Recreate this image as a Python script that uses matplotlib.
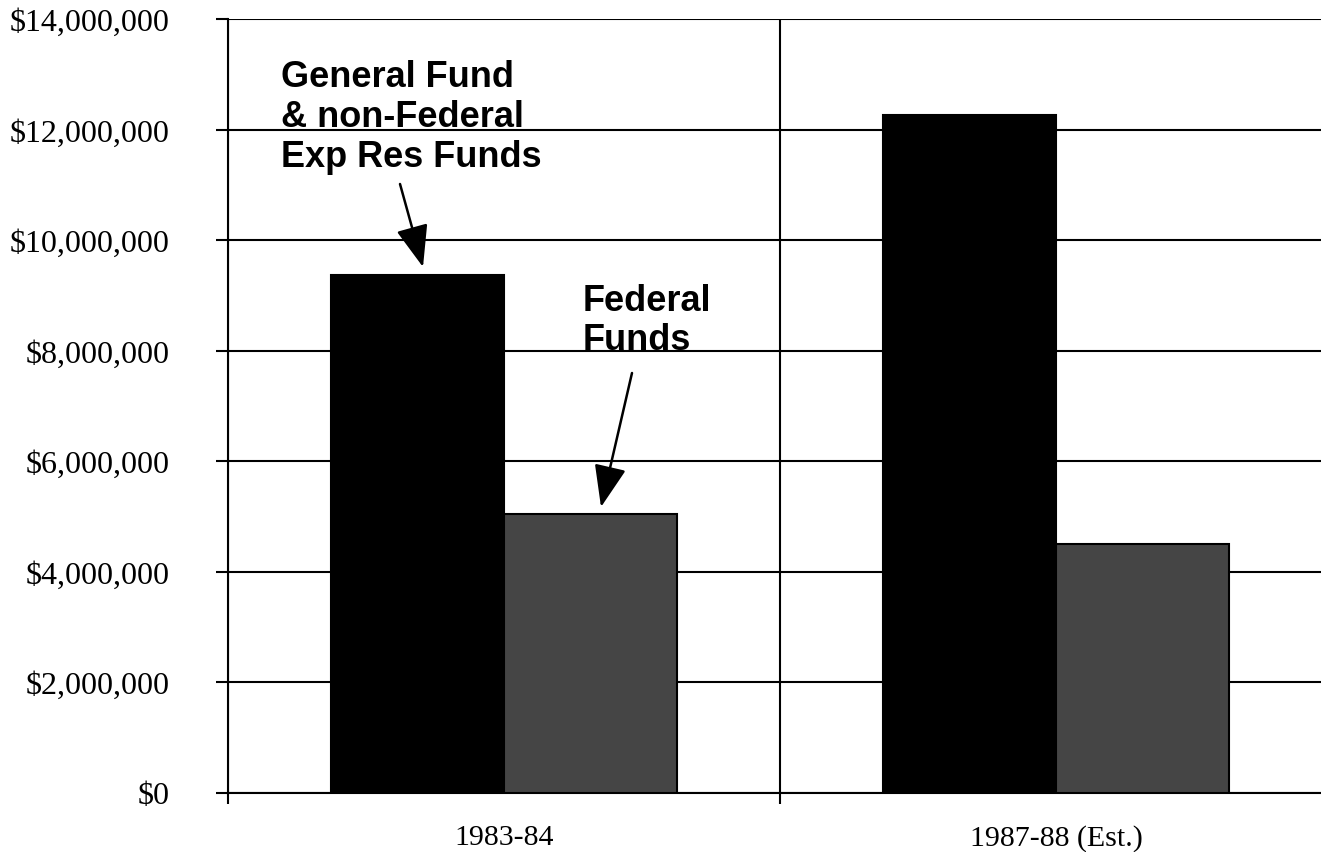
import matplotlib
matplotlib.use("Agg")
import matplotlib.pyplot as plt
from matplotlib.ticker import FuncFormatter, FixedLocator

categories = ["1983-84", "1987-88 (Est.)"]
general_fund = [9370000, 12270000]
federal_funds = [5040000, 4500000]
y_ticks = [0, 2000000, 4000000, 6000000, 8000000, 10000000, 12000000, 14000000]

W, H = 1321, 853
fig = plt.figure(figsize=(W / 100, H / 100), dpi=100)
ax = fig.add_axes([228 / W, 59.5 / H, 1104 / W, 773.5 / H])

x = list(range(len(categories)))
bw = 0.314
ax.bar([i - bw / 2 for i in x], general_fund, width=bw, color="black",
       edgecolor="black", linewidth=1.5, zorder=3)
ax.bar([i + bw / 2 for i in x], federal_funds, width=bw, color="#454545",
       edgecolor="black", linewidth=1.5, zorder=3)

ax.set_xlim(-0.5, len(categories) - 0.5)
ax.set_ylim(0, 14000000)

serif = ["Liberation Serif", "DejaVu Serif"]
ax.yaxis.set_major_locator(FixedLocator(y_ticks))
ax.yaxis.set_major_formatter(FuncFormatter(lambda v, p: "${:,.0f}".format(v)))
ax.tick_params(axis="y", direction="out", length=9, width=1.5, pad=33,
               labelsize=23)
for lab in ax.get_yticklabels():
    lab.set_fontfamily(serif)

ax.set_xticks(x)
ax.set_xticklabels(categories, fontfamily=serif, fontsize=21.5)
ax.tick_params(axis="x", which="major", length=0, pad=23)
ax.set_xticks([i - 0.5 for i in range(len(categories) + 1)], minor=True)
ax.tick_params(axis="x", which="minor", direction="out", length=8, width=1.5)

ax.grid(axis="y", which="major", color="black", linewidth=1.5, zorder=0)
ax.grid(axis="x", which="minor", color="black", linewidth=1.5, zorder=0)
ax.set_axisbelow(True)

for s in ["top", "right"]:
    ax.spines[s].set_visible(False)
ax.spines["left"].set_linewidth(1.5)
ax.spines["bottom"].set_linewidth(1.5)
ax.spines["left"].set_zorder(4)

sans = ["Liberation Sans", "DejaVu Sans"]
label1 = ["General Fund", "& non-Federal", "Exp Res Funds"]
for k, line in enumerate(label1):
    fig.text(281 / W, 1 - (87 + 40 * k) / H, line, fontfamily=sans,
             fontweight="bold", fontsize=26, ha="left", va="baseline")
label2 = ["Federal", "Funds"]
for k, line in enumerate(label2):
    fig.text(583 / W, 1 - (311 + 39 * k) / H, line, fontfamily=sans,
             fontweight="bold", fontsize=26, ha="left", va="baseline")

ap = dict(arrowstyle="-|>,head_length=1.3,head_width=0.5", color="black",
          lw=1.8, mutation_scale=20, shrinkA=0, shrinkB=0)
ax.annotate("", xy=(423, H - 268), xycoords="figure pixels",
            xytext=(400, H - 185), textcoords="figure pixels", arrowprops=ap)
ax.annotate("", xy=(601, H - 508), xycoords="figure pixels",
            xytext=(632, H - 374), textcoords="figure pixels", arrowprops=ap)

fig.savefig("out.png", dpi=100)
